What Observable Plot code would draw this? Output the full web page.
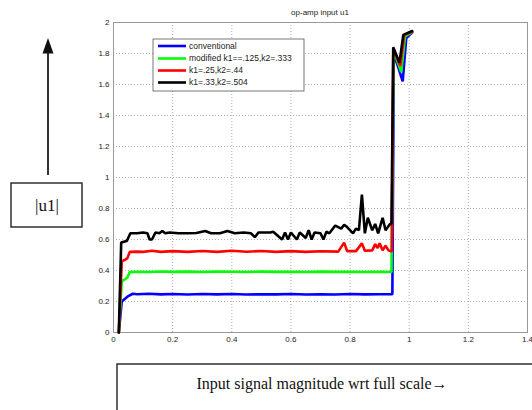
<!DOCTYPE html>
<html>
<head>
<meta charset="utf-8">
<script src="https://cdn.jsdelivr.net/npm/d3@7"></script>
<script src="https://cdn.jsdelivr.net/npm/@observablehq/plot@0.6"></script>
<style>
  html, body { margin: 0; padding: 0; background: #fff; }
  svg { display: block; }
</style>
</head>
<body>
<script>
const xTicks = [0, 0.2, 0.4, 0.6, 0.8, 1, 1.2, 1.4];
const yTicks = [0, 0.2, 0.4, 0.6, 0.8, 1, 1.2, 1.4, 1.6, 1.8, 2];
const seriesNames = ["conventional", "modified k1==.125,k2=.333", "k1=.25,k2=.44", "k1=.33,k2=.504"];
const seriesColors = ["#0000ff", "#00ff00", "#ff0000", "#000000"];

const conventional = [
  [0.018, 0], [0.028, 0.2], [0.04, 0.22], [0.05, 0.235], [0.065, 0.25], [0.08, 0.247],
  [0.12, 0.25], [0.16, 0.246], [0.2, 0.248], [0.25, 0.245], [0.3, 0.248], [0.35, 0.246],
  [0.4, 0.248], [0.45, 0.245], [0.5, 0.247], [0.55, 0.246], [0.6, 0.248], [0.65, 0.245],
  [0.7, 0.247], [0.75, 0.245], [0.8, 0.248], [0.85, 0.246], [0.9, 0.247], [0.943, 0.247],
  [0.948, 1.8], [0.978, 1.62], [0.99, 1.9], [1.01, 1.935]
];
const modified = [
  [0.018, 0], [0.028, 0.33], [0.04, 0.345], [0.047, 0.355], [0.055, 0.39], [0.08, 0.392],
  [0.12, 0.39], [0.16, 0.394], [0.2, 0.391], [0.25, 0.393], [0.3, 0.39], [0.35, 0.393],
  [0.4, 0.392], [0.45, 0.39], [0.5, 0.393], [0.55, 0.391], [0.6, 0.392], [0.65, 0.39],
  [0.7, 0.393], [0.75, 0.391], [0.8, 0.392], [0.85, 0.39], [0.9, 0.392], [0.94, 0.39],
  [0.947, 1.82], [0.973, 1.68], [0.986, 1.91], [1.01, 1.938]
];
const k25 = [
  [0.018, 0], [0.028, 0.46], [0.04, 0.47], [0.047, 0.48], [0.055, 0.52], [0.08, 0.522],
  [0.1, 0.52], [0.13, 0.527], [0.16, 0.52], [0.2, 0.525], [0.25, 0.52], [0.3, 0.526],
  [0.35, 0.52], [0.4, 0.527], [0.45, 0.521], [0.5, 0.526], [0.55, 0.52], [0.6, 0.525],
  [0.65, 0.52], [0.7, 0.524], [0.76, 0.522], [0.78, 0.58], [0.79, 0.525], [0.82, 0.525],
  [0.84, 0.575], [0.85, 0.527], [0.875, 0.53], [0.885, 0.57], [0.893, 0.545], [0.9, 0.575],
  [0.91, 0.53], [0.92, 0.56], [0.93, 0.53], [0.936, 0.525], [0.941, 0.525],
  [0.946, 1.83], [0.97, 1.72], [0.983, 1.92], [1.01, 1.94]
];
const k33 = [
  [0.018, 0], [0.026, 0.58], [0.035, 0.585], [0.045, 0.59], [0.057, 0.64], [0.08, 0.64],
  [0.1, 0.645], [0.115, 0.64], [0.122, 0.6], [0.13, 0.6], [0.142, 0.645], [0.155, 0.64],
  [0.165, 0.655], [0.175, 0.64], [0.19, 0.645], [0.22, 0.64], [0.25, 0.64], [0.28, 0.642],
  [0.31, 0.655], [0.33, 0.64], [0.36, 0.64], [0.385, 0.655], [0.41, 0.64], [0.44, 0.645],
  [0.465, 0.64], [0.478, 0.615], [0.49, 0.645], [0.53, 0.645], [0.54, 0.65], [0.57, 0.6],
  [0.58, 0.645], [0.59, 0.6], [0.6, 0.645], [0.62, 0.6], [0.63, 0.645], [0.65, 0.61],
  [0.66, 0.66], [0.67, 0.6], [0.68, 0.645], [0.7, 0.64], [0.71, 0.6], [0.72, 0.65],
  [0.73, 0.64], [0.75, 0.69], [0.77, 0.67], [0.78, 0.695], [0.79, 0.68], [0.81, 0.64],
  [0.82, 0.67], [0.83, 0.66], [0.84, 0.89], [0.85, 0.64], [0.86, 0.74], [0.875, 0.66],
  [0.885, 0.7], [0.895, 0.64], [0.91, 0.74], [0.92, 0.66], [0.935, 0.7], [0.94, 0.7],
  [0.946, 1.84], [0.967, 1.74], [0.98, 1.92], [1.01, 1.945]
];
const allSeries = [conventional, modified, k25, k33];

const fmt = d3.format("~g");
const plot = Plot.plot({
  width: 532,
  height: 410,
  marginLeft: 113,
  marginRight: 5,
  marginTop: 22,
  marginBottom: 78,
  style: { fontFamily: "'Liberation Sans', Arial, sans-serif", fontSize: "8px", color: "#222", background: "#fff" },
  x: { domain: [0, 1.4] },
  y: { domain: [0, 2] },
  marks: [
    Plot.gridX(xTicks, { stroke: "#b0b0b0", strokeOpacity: 1, strokeDasharray: "1,2" }),
    Plot.gridY(yTicks, { stroke: "#b0b0b0", strokeOpacity: 1, strokeDasharray: "1,2" }),
    Plot.frame({ stroke: "#999" }),
    Plot.axisX(xTicks, { tickSize: 0, tickPadding: 4, tickFormat: fmt, label: null }),
    Plot.axisY(yTicks, { tickSize: 0, tickPadding: 4, tickFormat: fmt, label: null }),
    ...allSeries.map((s, i) => Plot.line(s, {
      x: d => d[0], y: d => d[1], stroke: seriesColors[i], strokeWidth: 2.6, strokeLinejoin: "miter"
    }))
  ]
});
document.body.appendChild(plot);

const svg = d3.select(plot);
// title
svg.append("text").attr("x", 320).attr("y", 15).attr("text-anchor", "middle")
  .attr("font-size", 8).attr("fill", "#222").text("op-amp input u1");

// legend
const lg = svg.append("g").attr("text-anchor", "start");
lg.append("rect").attr("x", 153).attr("y", 39).attr("width", 151).attr("height", 52)
  .attr("fill", "#fff").attr("stroke", "#555").attr("stroke-width", 0.8);
const rowsY = [46, 58.5, 70.5, 82.5];
seriesNames.forEach((name, i) => {
  lg.append("line").attr("x1", 158).attr("x2", 186).attr("y1", rowsY[i]).attr("y2", rowsY[i])
    .attr("stroke", seriesColors[i]).attr("stroke-width", 2.6);
  lg.append("text").attr("x", 189).attr("y", rowsY[i]).attr("dy", "0.35em")
    .attr("text-anchor", "start")
    .attr("font-size", 8.5).attr("fill", "#222").text(name);
});

// left arrow + |u1| box
svg.append("line").attr("x1", 48).attr("x2", 48).attr("y1", 175).attr("y2", 50)
  .attr("stroke", "#333").attr("stroke-width", 2);
svg.append("path").attr("d", "M48,38 L42.5,53.5 L53.5,53.5 Z").attr("fill", "#111");
svg.append("rect").attr("x", 11).attr("y", 183).attr("width", 71).attr("height", 44)
  .attr("fill", "#fff").attr("stroke", "#222").attr("stroke-width", 1.4);
svg.append("text").attr("x", 47).attr("y", 205).attr("dy", "0.35em").attr("text-anchor", "middle")
  .attr("font-family", "'Liberation Serif', 'Times New Roman', serif").attr("font-size", 17)
  .attr("fill", "#111").text("|u1|");

// bottom box
svg.append("rect").attr("x", 117).attr("y", 364).attr("width", 420).attr("height", 60)
  .attr("fill", "#fff").attr("stroke", "#222").attr("stroke-width", 1.4);
svg.append("text").attr("x", 322).attr("y", 389).attr("text-anchor", "middle")
  .attr("font-family", "'Liberation Serif', 'Times New Roman', serif").attr("font-size", 16)
  .attr("fill", "#111").text("Input signal magnitude wrt full scale→");
</script>
</body>
</html>
